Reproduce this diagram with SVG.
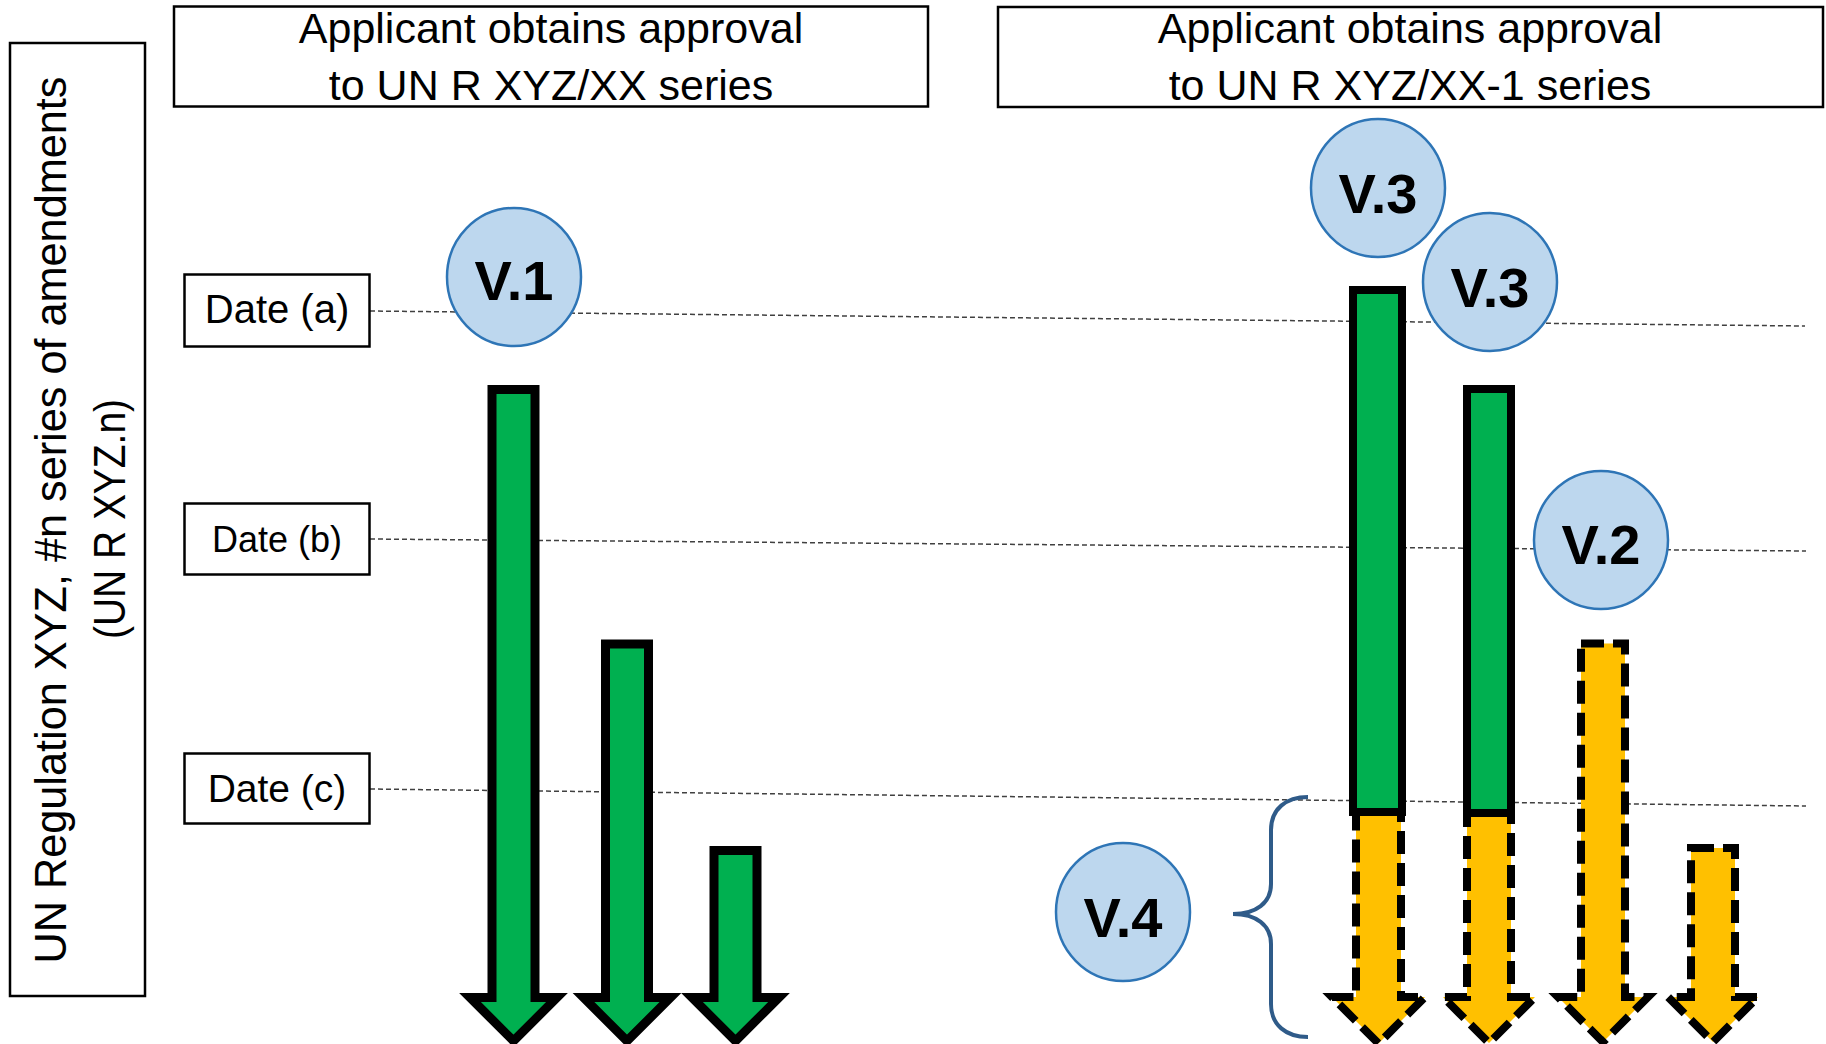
<svg xmlns="http://www.w3.org/2000/svg" width="1826" height="1044" viewBox="0 0 1826 1044">
<style>
.box{fill:#fff;stroke:#000;stroke-width:2.5}
.t{font-family:"Liberation Sans",Arial,sans-serif;fill:#000;text-anchor:middle}
.title{font-size:43px}
.vc{fill:#BDD7EE;stroke:#2E75B6;stroke-width:2.5}
.vt{font-family:"Liberation Sans",Arial,sans-serif;font-weight:bold;font-size:56px;fill:#000;text-anchor:middle}
.green{fill:#00B050;stroke:#000;stroke-width:9;stroke-linejoin:miter;stroke-miterlimit:10}
.gbar{fill:#00B050;stroke:#000;stroke-width:8}
.yellow{fill:#FFC000;stroke:#000;stroke-width:8;stroke-dasharray:23 9;stroke-linejoin:miter;stroke-miterlimit:10}
.dl{fill:none;stroke:#404040;stroke-width:1.5;stroke-dasharray:5 3}
.brace{fill:none;stroke:#2F5B89;stroke-width:4}
</style>
<rect width="1826" height="1044" fill="#fff"/>

<g id="axis-label">
<rect class="box" x="10" y="43" width="135" height="953"/>
<text class="t" font-size="45" transform="translate(66,520) rotate(-90)" textLength="887" lengthAdjust="spacingAndGlyphs">UN Regulation XYZ,  #n series of amendments</text>
<text class="t" font-size="45" transform="translate(125,519) rotate(-90)" textLength="240" lengthAdjust="spacingAndGlyphs">(UN R XYZ.n)</text>
</g>

<g id="title-left">
<rect class="box" x="174" y="6.5" width="754" height="100"/>
<text class="t title" x="551" y="43">Applicant obtains approval</text>
<text class="t title" x="551" y="100">to UN R XYZ/XX series</text>
</g>

<g id="title-right">
<rect class="box" x="998" y="7" width="825" height="100"/>
<text class="t title" x="1410" y="43">Applicant obtains approval</text>
<text class="t title" x="1410" y="100">to UN R XYZ/XX-1 series</text>
</g>

<g id="connectors">
<path class="dl" d="M370,311 L1805,326"/>
<path class="dl" d="M370,539 L1806,551"/>
<path class="dl" d="M370,789 L1806,806"/>
</g>

<g id="date-a">
<rect class="box" x="184.5" y="274.5" width="185" height="72" stroke-width="2"/>
<text class="t" x="277" y="323" font-size="40">Date (a)</text>
</g>
<g id="date-b">
<rect class="box" x="184.5" y="503.5" width="185" height="71" stroke-width="2"/>
<text class="t" x="277" y="552" font-size="36">Date (b)</text>
</g>
<g id="date-c">
<rect class="box" x="184.5" y="753.5" width="185" height="70" stroke-width="2"/>
<text class="t" x="277" y="802" font-size="39">Date (c)</text>
</g>

<g id="arrow-left-1">
<path class="green" d="M492,389.5 L535,389.5 L535,997.5 L557,997.5 L513.5,1041 L470,997.5 L492,997.5 Z"/>
</g>
<g id="arrow-left-2">
<path class="green" d="M605.5,644 L648.5,644 L648.5,997.5 L670.5,997.5 L627,1041 L583.5,997.5 L605.5,997.5 Z"/>
</g>
<g id="arrow-left-3">
<path class="green" d="M714,850.5 L757,850.5 L757,997.5 L779,997.5 L735.5,1041 L692,997.5 L714,997.5 Z"/>
</g>

<g id="arrow-right-1">
<path class="yellow" d="M1356,812 L1401,812 L1401,997 L1425,997 L1378.5,1043.5 L1332,997 L1356,997 Z"/>
<rect class="gbar" x="1353" y="290" width="49" height="522"/>
</g>
<g id="arrow-right-2">
<path class="yellow" d="M1467,813 L1511,813 L1511,997 L1535,997 L1489,1043 L1443,997 L1467,997 Z"/>
<rect class="gbar" x="1467" y="389" width="44" height="424"/>
</g>
<g id="arrow-right-3">
<path class="yellow" d="M1581,643.5 L1625,643.5 L1625,997 L1648,997 L1603,1042 L1558,997 L1581,997 Z"/>
</g>
<g id="arrow-right-4">
<path class="yellow" d="M1691,848 L1735,848 L1735,997 L1758,997 L1713,1042 L1668,997 L1691,997 Z"/>
</g>

<g id="brace">
<path class="brace" d="M1308,797 C1286,797 1271,809 1271,830 L1271,884 C1271,903 1256,914 1233,914 C1256,914 1271,925 1271,944 L1271,1004 C1271,1025 1286,1037 1308,1037"/>
</g>

<g id="v1">
<ellipse class="vc" cx="514" cy="277" rx="67" ry="69"/>
<text class="vt" x="514" y="300">V.1</text>
</g>
<g id="v3-top">
<ellipse class="vc" cx="1378" cy="188" rx="67" ry="69"/>
<text class="vt" x="1378" y="213">V.3</text>
</g>
<g id="v3-second">
<ellipse class="vc" cx="1490" cy="282" rx="67" ry="69"/>
<text class="vt" x="1490" y="307">V.3</text>
</g>
<g id="v2">
<ellipse class="vc" cx="1601" cy="540" rx="67" ry="69"/>
<text class="vt" x="1601" y="564">V.2</text>
</g>
<g id="v4">
<ellipse class="vc" cx="1123" cy="912" rx="67" ry="69"/>
<text class="vt" x="1123" y="937">V.4</text>
</g>
</svg>
